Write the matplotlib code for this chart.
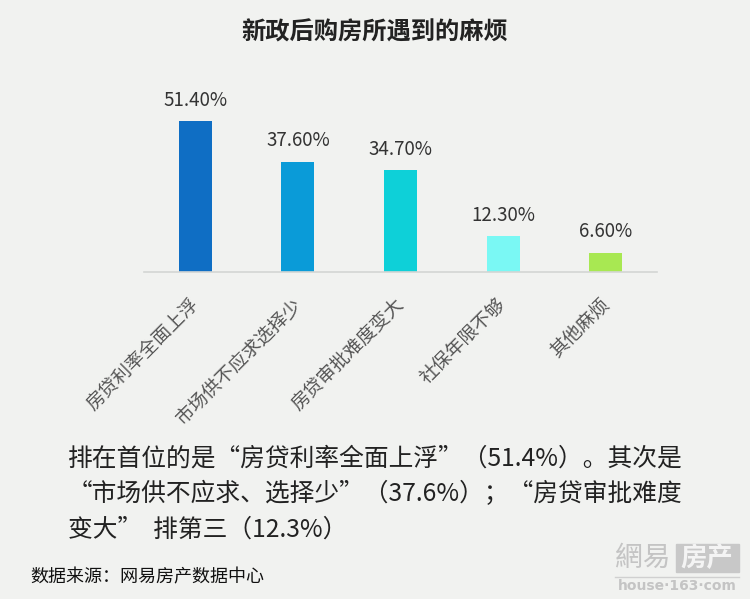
import matplotlib
matplotlib.use("Agg")
import matplotlib.pyplot as plt
from matplotlib.patches import Rectangle

plt.rcParams['font.family'] = ['Noto Sans CJK SC', 'DejaVu Sans']

# data
categories = ["房贷利率全面上浮", "市场供不应求选择少", "房贷审批难度变大", "社保年限不够", "其他麻烦"]
values = [51.4, 37.6, 34.7, 12.3, 6.6]
value_labels = ["51.40%", "37.60%", "34.70%", "12.30%", "6.60%"]
colors = ["#0f6ec4", "#0a9bd8", "#0ed0d8", "#7af8f4", "#a8e852"]

title = "新政后购房所遇到的麻烦"
note_lines = [
    "排在首位的是“房贷利率全面上浮”（51.4%）。其次是",
    "“市场供不应求、选择少”（37.6%）；“房贷审批难度",
    "变大”  排第三（12.3%）",
]
source = "数据来源：网易房产数据中心"

bg = "#f1f2f0"
W, H = 750, 599
fig = plt.figure(figsize=(7.5, 5.99), dpi=100, facecolor=bg)

# axes: x from 144 to 657 px, baseline at y=272, top at y=96
ax = fig.add_axes([144 / W, 1 - 272 / H, (657 - 144) / W, (272 - 96) / H])
ax.set_facecolor(bg)
x = list(range(len(categories)))
ax.bar(x, values, width=0.32, color=colors, zorder=2)
ax.set_xlim(-0.5, len(categories) - 0.5)
ax.set_ylim(0, 60)

for xi, v, lab in zip(x, values, value_labels):
    ax.text(xi, v + 3.5, lab, ha="center", va="bottom", fontsize=13.5, color="#333333")

for s in ["top", "right", "left"]:
    ax.spines[s].set_visible(False)
ax.spines["bottom"].set_color("#d4d6d4")
ax.spines["bottom"].set_linewidth(1.2)
ax.set_yticks([])
ax.set_xticks(x)
ax.set_xticklabels(categories, rotation=45, ha="right", va="center",
                   rotation_mode="anchor", fontsize=13.5, color="#555555")
ax.tick_params(axis="x", length=0, pad=21)

fig.text(375 / W, 1 - 33 / H, title, ha="center", va="center", fontsize=17.5,
         fontweight="bold", color="#222222")

for i, line in enumerate(note_lines):
    fig.text(68 / W, 1 - (458 + 36 * i) / H, line, ha="left", va="center",
             fontsize=17.8, color="#222222")

fig.text(30 / W, 1 - 577 / H, source, ha="left", va="center", fontsize=13,
         color="#111111")

# watermark
fig.text(643 / W, 1 - 558 / H, "網易", ha="center", va="center", fontsize=20,
         color="#c4c4c4")
fig.patches.append(Rectangle((676 / W, 1 - 572 / H), 63 / W, 28 / H,
                             transform=fig.transFigure, color="#c8c8c8", zorder=1))
fig.text(707 / W, 1 - 558 / H, "房产", ha="center", va="center", fontsize=19,
         color="#f4f4f4", fontweight="bold", zorder=3)
fig.lines.append(plt.Line2D([615 / W, 739 / W], [1 - 577 / H, 1 - 577 / H],
                            transform=fig.transFigure, color="#d0d0d0", lw=1))
fig.text(677 / W, 1 - 586 / H, "house·163·com", ha="center", va="center",
         fontsize=10, color="#c4c4c4", fontweight="bold", family="DejaVu Sans")

fig.savefig("out.png", dpi=100, facecolor=bg)
